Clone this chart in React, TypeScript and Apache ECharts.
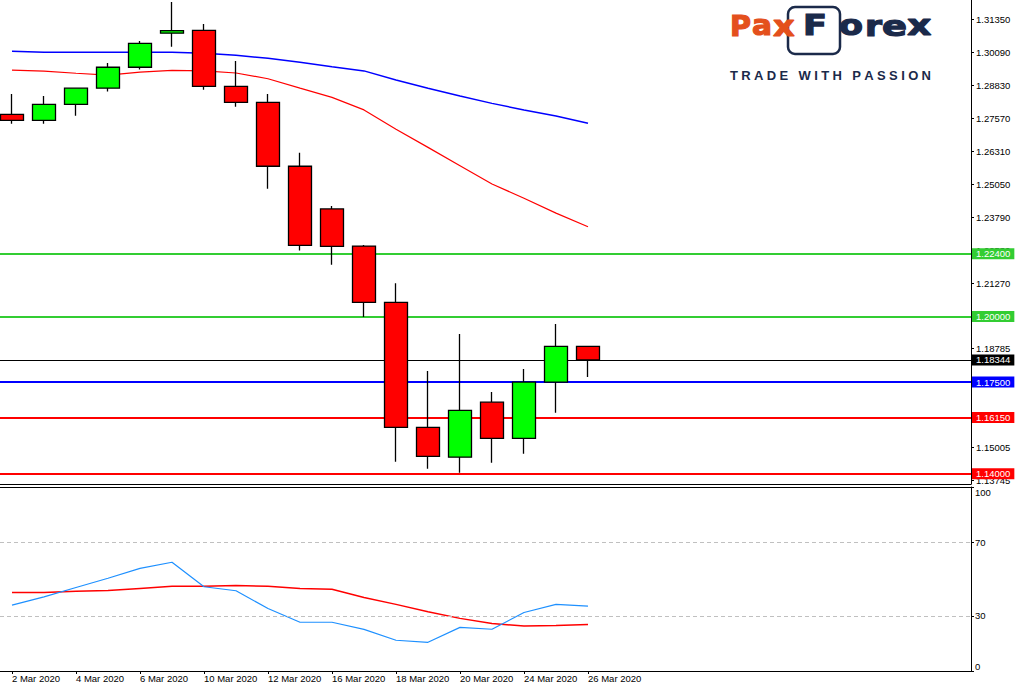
import React, { useEffect, useRef } from 'react';
import * as echarts from 'echarts';

// ---------- data ----------
const dates = [
  '2 Mar 2020', '3 Mar 2020', '4 Mar 2020', '5 Mar 2020', '6 Mar 2020',
  '9 Mar 2020', '10 Mar 2020', '11 Mar 2020', '12 Mar 2020', '13 Mar 2020',
  '16 Mar 2020', '17 Mar 2020', '18 Mar 2020', '19 Mar 2020', '20 Mar 2020',
  '23 Mar 2020', '24 Mar 2020', '25 Mar 2020', '26 Mar 2020',
];
const openP = [1.2772, 1.2749, 1.2810, 1.2872, 1.2952, 1.3082, 1.3093, 1.2879, 1.2818, 1.2574, 1.2411, 1.2269, 1.2054, 1.1577, 1.1463, 1.1673, 1.1535, 1.1750, 1.1886];
const closeP = [1.2749, 1.2810, 1.2872, 1.2952, 1.3043, 1.3092, 1.2879, 1.2818, 1.2574, 1.2272, 1.2268, 1.2054, 1.1577, 1.1466, 1.1642, 1.1535, 1.1750, 1.1886, 1.18344];
const lowP = [1.2736, 1.2736, 1.2767, 1.2859, 1.2943, 1.3030, 1.2866, 1.2801, 1.2488, 1.2252, 1.2198, 1.1998, 1.1446, 1.1419, 1.1404, 1.1442, 1.1476, 1.1633, 1.1769];
const highP = [1.2850, 1.2842, 1.2872, 1.2968, 1.3052, 1.3201, 1.3117, 1.2976, 1.2850, 1.2625, 1.2422, 1.2273, 1.2127, 1.1792, 1.1933, 1.1712, 1.1800, 1.1972, 1.1886];
const maSlow = [1.3013, 1.3009, 1.3009, 1.3009, 1.3009, 1.3009, 1.3005, 1.2998, 1.2986, 1.2971, 1.2954, 1.2938, 1.2903, 1.2872, 1.2842, 1.2814, 1.2789, 1.2766, 1.2738];
const maFast = [1.2941, 1.2937, 1.2929, 1.2922, 1.2933, 1.2940, 1.2938, 1.2930, 1.2908, 1.2872, 1.2837, 1.2789, 1.2715, 1.2646, 1.2576, 1.2506, 1.2452, 1.2395, 1.2343];
const oscMain = [35.8, 40.3, 45.4, 50.4, 55.8, 59.1, 45.8, 43.6, 34.0, 26.5, 26.5, 22.6, 16.7, 15.6, 23.7, 22.7, 31.8, 36.2, 35.3];
const oscSignal = [42.7, 42.7, 43.3, 43.8, 44.9, 46.0, 46.0, 46.5, 46.0, 44.9, 44.4, 40.0, 36.2, 32.2, 28.6, 25.8, 24.4, 24.7, 25.3];
const levels = [1.224, 1.2, 1.18344, 1.175, 1.1615, 1.14];
const priceTicks = [1.3135, 1.3009, 1.2883, 1.2757, 1.2631, 1.2505, 1.2379, 1.2253, 1.2127, 1.18785, 1.15005, 1.13745];
const oscTicks = [0, 30, 70, 100];
const oscGuides = [30, 70];
const dateTickIdx = [0, 2, 4, 6, 8, 10, 12, 14, 16, 18];

// ---------- styles ----------
const levelColors = ['#32CD32', '#32CD32', '#000000', '#0000FF', '#FF0000', '#FF0000'];
const levelWidths = [2, 2, 1, 2, 2, 2];
const FONT = '"Liberation Sans", Arial, sans-serif';
const LOGO_FONT = '"DejaVu Sans", "Liberation Sans", sans-serif';
const NAVY = '#1B2A4A';
const ORANGE = '#E4501C';
const X_MIN = -0.375;
const X_MAX = 29.969;

function buildLogo() {
  const els: any[] = [];
  // DejaVu Sans Bold advance widths (em)
  const ADV: Record<string, number> = { P: 0.733, a: 0.675, x: 0.712, F: 0.683, o: 0.687, r: 0.493, e: 0.678 };
  const fs = 29;
  const big = [
    { ch: 'P', x: 730, w: 21, c: ORANGE },
    { ch: 'a', x: 752, w: 20, c: ORANGE },
    { ch: 'x', x: 773, w: 24, c: ORANGE },
    { ch: 'F', x: 803, w: 24, c: NAVY },
    { ch: 'o', x: 839, w: 24, c: NAVY },
    { ch: 'r', x: 865, w: 17, c: NAVY },
    { ch: 'e', x: 882, w: 25, c: NAVY },
    { ch: 'x', x: 907, w: 27, c: NAVY },
  ];
  els.push({
    type: 'rect', shape: { x: 788, y: 7, width: 52, height: 47, r: 7 },
    style: { fill: 'none', stroke: NAVY, lineWidth: 2.5 }, silent: true, z: 10,
  });
  big.forEach((b) => {
    els.push({
      type: 'text', x: b.x, y: 25.5, scaleX: b.w / (ADV[b.ch] * fs), z: 11, silent: true,
      style: {
        text: b.ch, fill: b.c, stroke: b.c, lineWidth: 1.2,
        font: `bold ${fs}px ${LOGO_FONT}`, verticalAlign: 'middle', align: 'left',
      },
    });
  });
  const tagline = 'TRADE WITH PASSION';
  const W: Record<string, number> = { T: 0.611, R: 0.722, A: 0.722, D: 0.722, E: 0.667, W: 0.944, I: 0.278, H: 0.722, P: 0.667, S: 0.667, O: 0.778, N: 0.722, ' ': 0.278 };
  const ts = 13;
  let total = 0;
  for (const ch of tagline) total += (W[ch] || 0.7) * ts;
  const gap = (201 - total) / (tagline.length - 1);
  let cx = 730;
  for (const ch of tagline) {
    if (ch !== ' ') {
      els.push({
        type: 'text', x: cx, y: 75, z: 11, silent: true,
        style: { text: ch, fill: NAVY, font: `bold ${ts}px ${FONT}`, verticalAlign: 'middle', align: 'left' },
      });
    }
    cx += (W[ch] || 0.7) * ts + gap;
  }
  return els;
}

export default function App() {
  const ref = useRef<HTMLDivElement>(null);
  useEffect(() => {
    const chart = echarts.init(ref.current!, null, { renderer: 'svg' });
    const labelBase = { fontSize: 9.5, fontFamily: FONT, color: '#000' };
    const option: any = {
      animation: false,
      backgroundColor: '#ffffff',
      grid: [
        { left: 0, right: 48, top: 0, height: 484 },
        { left: 0, right: 48, top: 487, height: 184 },
      ],
      xAxis: [
        {
          type: 'value', gridIndex: 0, min: X_MIN, max: X_MAX,
          axisLine: { show: true, onZero: false, lineStyle: { color: '#000', width: 1 } },
          axisTick: { show: false }, axisLabel: { show: false }, splitLine: { show: false },
        },
        {
          type: 'value', gridIndex: 1, min: X_MIN, max: X_MAX,
          axisLine: { show: true, onZero: false, lineStyle: { color: '#000', width: 1 } },
          axisTick: { show: true, customValues: dateTickIdx, length: 3, lineStyle: { color: '#000' } },
          axisLabel: {
            ...labelBase, customValues: dateTickIdx, align: 'left', margin: 2,
            formatter: (v: number) => dates[Math.round(v)] ?? '',
          },
          splitLine: { show: false },
        },
        {
          type: 'value', gridIndex: 1, position: 'top', min: X_MIN, max: X_MAX,
          axisLine: { show: true, onZero: false, lineStyle: { color: '#000', width: 1 } },
          axisTick: { show: false }, axisLabel: { show: false }, splitLine: { show: false },
        },
      ],
      yAxis: [
        {
          type: 'value', gridIndex: 0, position: 'right', min: 1.13607, max: 1.32087,
          axisLine: { show: true, onZero: false, lineStyle: { color: '#000', width: 1 } },
          axisTick: { show: true, customValues: priceTicks, length: 3, lineStyle: { color: '#000' } },
          axisLabel: { ...labelBase, customValues: priceTicks, margin: 5, formatter: (v: number) => v.toFixed(5) },
          splitLine: { show: false },
        },
        {
          type: 'value', gridIndex: 1, position: 'right', min: 0, max: 100,
          axisLine: { show: true, onZero: false, lineStyle: { color: '#000', width: 1 } },
          axisTick: { show: true, customValues: oscTicks, length: 3, lineStyle: { color: '#000' } },
          axisLabel: {
            ...labelBase, customValues: oscTicks, margin: 4,
            verticalAlignMinLabel: 'bottom', verticalAlignMaxLabel: 'top',
            formatter: (v: number) => String(v),
          },
          splitLine: { show: false },
        },
      ],
      graphic: buildLogo(),
      series: [
        {
          type: 'line', xAxisIndex: 0, yAxisIndex: 0, z: 1, silent: true, showSymbol: false,
          data: maSlow.map((v, i) => [i, v]),
          lineStyle: { color: '#0000FF', width: 1.5 },
        },
        {
          type: 'line', xAxisIndex: 0, yAxisIndex: 0, z: 1, silent: true, showSymbol: false,
          data: maFast.map((v, i) => [i, v]),
          lineStyle: { color: '#FF0000', width: 1.2 },
          markLine: {
            z: 1, silent: true, symbol: ['none', 'none'], animation: false, precision: 5,
            data: levels.map((v, i) => ({
              yAxis: v,
              lineStyle: { color: levelColors[i], width: levelWidths[i], type: 'solid' },
              label: {
                show: true, position: 'end', distance: 1, formatter: v.toFixed(5),
                color: '#fff', backgroundColor: levelColors[i], padding: [1, 4, 0, 4],
                fontSize: 9.5, fontFamily: FONT, lineHeight: 10,
              },
            })),
          },
        },
        {
          type: 'candlestick', xAxisIndex: 0, yAxisIndex: 0, z: 3, silent: true,
          barWidth: 24,
          data: dates.map((_, i) => [i, openP[i], closeP[i], lowP[i], highP[i]]),
          itemStyle: { color: '#00FF00', color0: '#FF0000', borderColor: '#000', borderColor0: '#000', borderWidth: 1.3 },
        },
        {
          type: 'line', xAxisIndex: 1, yAxisIndex: 1, z: 2, silent: true, showSymbol: false,
          data: oscSignal.map((v, i) => [i, v]),
          lineStyle: { color: '#FF0000', width: 1.5 },
          markLine: {
            silent: true, symbol: ['none', 'none'], animation: false, label: { show: false },
            lineStyle: { color: '#C0C0C0', type: [4, 3], width: 1 },
            data: oscGuides.map((v) => ({ yAxis: v })),
          },
        },
        {
          type: 'line', xAxisIndex: 1, yAxisIndex: 1, z: 3, silent: true, showSymbol: false,
          data: oscMain.map((v, i) => [i, v]),
          lineStyle: { color: '#1E90FF', width: 1.2 },
        },
      ],
    };
    chart.setOption(option);
    return () => chart.dispose();
  }, []);
  return (
    <div
      ref={ref}
      style={{ position: 'fixed', left: 0, top: 0, width: 1019, height: 686, background: '#fff' }}
    />
  );
}
